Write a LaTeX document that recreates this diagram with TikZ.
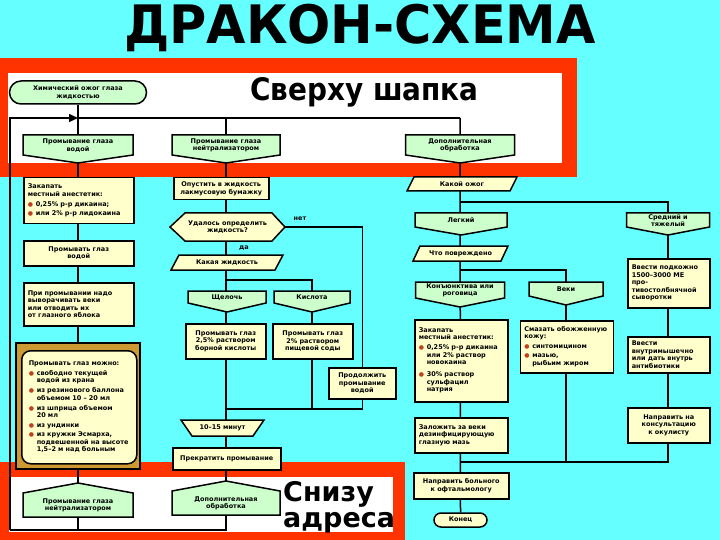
\documentclass[tikz,border=0pt]{standalone}
\usepackage{fontspec}
\setmainfont{DejaVu Sans}
\usetikzlibrary{arrows.meta}
\definecolor{bgcyan}{RGB}{102,255,255}
\definecolor{fred}{RGB}{255,51,0}
\definecolor{hgreen}{RGB}{204,255,204}
\definecolor{byellow}{RGB}{255,255,204}
\definecolor{gold}{RGB}{204,153,51}
\definecolor{bulc}{RGB}{192,64,32}
\pgfdeclarelayer{bg}
\pgfdeclarelayer{lines}
\pgfsetlayers{bg,lines,main}
\newcommand\bul{\textcolor{bulc}{\fontsize{6}{6}\selectfont●}}
\newcommand\bitem[1]{\par\vspace{1.5pt}\noindent\makebox[8pt][l]{\bul}\begin{tabular}[t]{@{}l@{}}#1\end{tabular}}
\tikzset{
  outl/.style={draw=black, line width=1.5pt, line join=miter},
  conn/.style={draw=black, line width=1.5pt},
  txt/.style={font=\fontsize{6.5}{7.5}\selectfont\bfseries, align=center, inner sep=0pt},
  yb/.style={outl, fill=byellow, font=\fontsize{6.5}{7.5}\selectfont\bfseries, inner xsep=4pt, inner ysep=1pt, align=center},
}
% headline: name, cx, top, width, shoulder depth, tip depth, text
\newcommand\hdl[7]{%
  \path[outl, fill=hgreen] ({#2-#4/2},#3) -- ({#2+#4/2},#3) -- ({#2+#4/2},{#3+#5}) -- (#2,{#3+#6}) -- ({#2-#4/2},{#3+#5}) -- cycle;
  \node[txt, minimum width=#4pt, minimum height=#6pt, anchor=north] (#1) at (#2,#3) {};
  \node[txt] at (#2,{#3+#5/2+0.5}) {#7};
}
% address: name, cx, peak, width, shoulder depth, total depth, text
\newcommand\adr[7]{%
  \path[outl, fill=hgreen] (#2,#3) -- ({#2+#4/2},{#3+#5}) -- ({#2+#4/2},{#3+#6}) -- ({#2-#4/2},{#3+#6}) -- ({#2-#4/2},{#3+#5}) -- cycle;
  \node[txt, minimum width=#4pt, minimum height=#6pt, anchor=north] (#1) at (#2,#3) {};
  \node[txt] at (#2,{#3+(#5+#6)/2+0.5}) {#7};
}
\begin{document}
\begin{tikzpicture}[x=1pt,y=-1pt]
\useasboundingbox (0,0) rectangle (720,540);
\begin{pgfonlayer}{bg}
  \fill[bgcyan] (0,0) rectangle (720,540);
  \fill[fred] (0,58) rectangle (577,177);
  \fill[white] (8,73) rectangle (562,163);
  \fill[fred] (0,462) rectangle (405,540);
  \fill[white] (9,477) rectangle (393,532);
\end{pgfonlayer}

% titles
\node[inner sep=0pt, font=\fontsize{53}{53}\selectfont\bfseries] (title) at (360,28) {\scalebox{0.96}[1]{ДРАКОН-СХЕМА}};
\node[inner sep=0pt, anchor=base west, font=\fontsize{31}{31}\selectfont\bfseries] (top) at (250,101) {\scalebox{0.9}[1]{Сверху шапка}};
\node[inner sep=0pt, anchor=base west, font=\fontsize{27}{27}\selectfont\bfseries] (bot1) at (283,501) {Снизу};
\node[inner sep=0pt, anchor=base west, font=\fontsize{27}{27}\selectfont\bfseries] (bot2) at (283,527) {адреса};

\coordinate (ltop) at (10,118);
\coordinate (lbot) at (10,530);
\coordinate (j1) at (78,118);
\coordinate (j3) at (460,118);
\coordinate (brA) at (226,280);
\coordinate (joinA) at (226,409);
\coordinate (brB) at (460,202);
\coordinate (brC) at (460,270);
\coordinate (joinB) at (460,462);

% ---------- column 1 ----------
\node[outl, fill=hgreen, rounded corners=11.5pt, minimum width=137pt, minimum height=23pt, txt] (t1) at (78,92.5) {Химический ожог глаза\\жидкостью};
\hdl{h1}{78}{135}{110}{20}{28}{Промывание глаза\\водой}
\node[yb, anchor=north west, text width=102pt, minimum height=46pt, align=left] (b1) at (23,177)
  {Закапать\\местный анестетик:\par\vspace{1pt}\bitem{0,25\% р-р дикаина;}\bitem{или 2\% р-р лидокаина}};
\node[yb, anchor=north west, text width=102pt, minimum height=25pt] (b2) at (23,240) {Промывать глаз\\водой};
\node[yb, anchor=north west, text width=102pt, minimum height=43pt, align=left] (b3) at (23,282)
  {При промывании надо\\выворачивать веки\\или отводить их\\от глазного яблока};
\path[outl, fill=gold] (16,343) rectangle (140,469);
\node[yb, rounded corners=9pt, anchor=north west, text width=101pt, inner xsep=7pt, minimum height=113pt, align=left] (b4) at (21,350)
  {Промывать глаз можно:\par\vspace{1pt}%
   \bitem{свободно текущей\\водой из крана}%
   \bitem{из резинового баллона\\объемом 10 – 20 мл}%
   \bitem{из шприца объемом\\20 мл}%
   \bitem{из ундинки}%
   \bitem{из кружки Эсмарха,\\подвешенной на высоте\\1,5–2 м над больным}};
\adr{a1}{78}{483}{110}{10}{34}{Промывание глаза\\нейтрализатором}

% ---------- column 2 ----------
\hdl{h2}{226}{135}{108}{20}{28}{Промывание глаза\\нейтрализатором}
\node[yb, anchor=north west, text width=87pt, minimum height=22pt] (b5) at (173,177) {Опустить в жидкость\\лакмусовую бумажку};
\path[outl, fill=byellow] (170,227) -- (185,213) -- (272,213) -- (285,227) -- (272,241) -- (185,241) -- cycle;
\node[txt, minimum width=115pt, minimum height=28pt] (q) at (227.5,227) {Удалось определить\\жидкость?};
\node[txt] (net) at (300,219) {нет};
\node[txt] (da) at (244,248) {да};
\path[outl, fill=byellow] (179,255) -- (283,255) -- (275,270) -- (171,270) -- cycle;
\node[txt, minimum width=110pt, minimum height=15pt] (p1) at (227,262.5) {Какая жидкость};
\hdl{alk}{227}{291}{78}{12}{21}{Щелочь}
\hdl{kis}{312}{291}{76}{12}{21}{Кислота}
\node[yb, anchor=north west, text width=72pt, minimum height=35pt] (b6) at (185,323) {Промывать глаз\\2,5\% раствором\\борной кислоты};
\node[yb, anchor=north west, text width=72pt, minimum height=35pt] (b7) at (272,323) {Промывать глаз\\2\% раствором\\пищевой соды};
\node[yb, anchor=north west, text width=59pt, minimum height=31pt] (b8) at (328,367) {Продолжить\\промывание\\водой};
\path[outl, fill=byellow] (181,420) -- (264,420) -- (253,436) -- (192,436) -- cycle;
\node[txt, minimum width=83pt, minimum height=16pt] (lp) at (222.5,428) {10–15 минут};
\node[yb, anchor=north west, text width=100pt, minimum height=22pt] (b9) at (172,447) {Прекратить промывание};
\adr{a2}{226}{481}{108}{10}{34}{Дополнительная\\обработка}

% ---------- column 3 ----------
\hdl{h3}{460}{135}{109}{20}{28}{Дополнительная\\обработка}
\path[outl, fill=byellow] (414,177) -- (517,177) -- (510,191) -- (407,191) -- cycle;
\node[txt, minimum width=110pt, minimum height=14pt] (p2) at (462,184) {Какой ожог};
\hdl{leg}{461}{213}{92}{14}{22}{Легкий}
\hdl{sred}{668}{213}{83}{14}{22}{Средний и\\тяжелый}
\path[outl, fill=byellow] (420,246) -- (508,246) -- (501,261) -- (413,261) -- cycle;
\node[txt, minimum width=95pt, minimum height=15pt] (p3) at (460.5,253.5) {Что повреждено};
\hdl{kon}{460}{282}{89}{16}{25}{Конъюнктива или\\роговица}
\hdl{veki}{566}{282}{74}{14}{23}{Веки}
\node[yb, anchor=north west, text width=74pt, minimum height=49pt, align=left] (b12) at (627,258)
  {Ввести подкожно\\1500–3000 МЕ\\про-\\тивостолбнячной\\сыворотки};
\node[yb, anchor=north west, text width=85pt, minimum height=82pt, align=left] (b10) at (414,319)
  {Закапать\\местный анестетик:\par\vspace{1pt}%
   \bitem{0,25\% р-р дикаина\\или 2\% раствор\\новокаина}%
   \par\vspace{2pt}\bitem{30\% раствор\\сульфацил\\натрия}};
\node[yb, anchor=north west, text width=85pt, minimum height=52pt, align=left] (b11) at (519.5,320)
  {Смазать обожженную\\кожу:\par\vspace{1pt}\bitem{синтомицином}\bitem{мазью,\\рыбьим жиром}};
\node[yb, anchor=north west, text width=74pt, minimum height=36pt, align=left] (b13) at (627,336)
  {Ввести\\внутримышечно\\или дать внутрь\\антибиотики};
\node[yb, anchor=north west, text width=85pt, minimum height=35pt, align=left] (b14) at (414,417)
  {Заложить за веки\\дезинфицирующую\\глазную мазь};
\node[yb, anchor=north west, text width=74pt, minimum height=35pt] (b15) at (627,407)
  {Направить на\\консультацию\\к окулисту};
\node[yb, anchor=north west, text width=87pt, minimum height=26pt] (b16) at (413,472)
  {Направить больного\\к офтальмологу};
\node[outl, fill=byellow, rounded corners=7pt, minimum width=53pt, minimum height=14pt, txt] (t2) at (460.5,520) {Конец};

% ---------- connectors ----------
\begin{pgfonlayer}{lines}
  \draw[conn] (t1.south) -- (a1.south);
  \draw[conn] (a1.south) |- (lbot);
  \draw[conn] (a2.south) |- (lbot);
  \draw[conn, -{Triangle[length=9pt,width=8pt]}] (lbot) -- (ltop) -- (j1);
  \draw[conn] (j1) -- (j3);
  \draw[conn] (h2.north |- ltop) -- (h2.north);
  \draw[conn] (h2.south) -- (a2.north);
  \draw[conn] (brA) -| (kis.north);
  \draw[conn] (kis.south) |- (joinA);
  \draw[conn] (q.east) -| (b8.north);
  \draw[conn] (b8.south) |- (joinA);
  \draw[conn] (j3) -- (t2.north);
  \draw[conn] (brB) -| (sred.north);
  \draw[conn] (sred.south) |- (joinB);
  \draw[conn] (brC) -| (veki.north);
  \draw[conn] (veki.south) |- (joinB);
\end{pgfonlayer}
\end{tikzpicture}
\end{document}
